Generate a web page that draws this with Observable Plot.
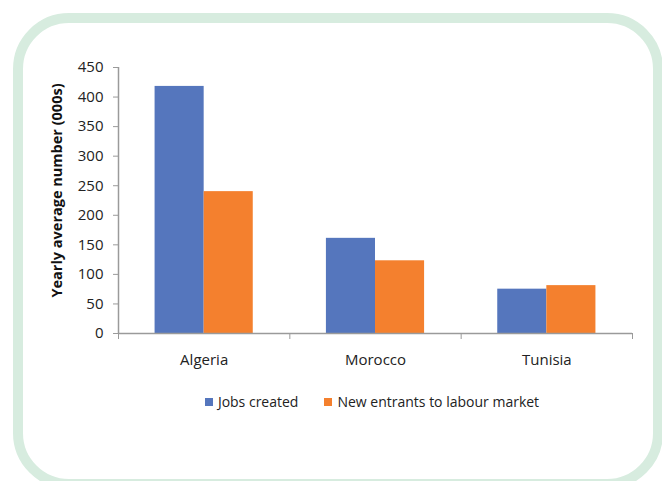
<!DOCTYPE html>
<html>
<head>
<meta charset="utf-8">
<script src="https://cdn.jsdelivr.net/npm/d3@7"></script>
<script src="https://cdn.jsdelivr.net/npm/@observablehq/plot@0.6"></script>
<style>
  html, body { margin: 0; padding: 0; background: #fff; }
  #wrap { position: relative; width: 662px; height: 481px; overflow: hidden; font-family: "Open Sans", sans-serif; }
  #frame { position: absolute; left: 13px; top: 13px; width: 650px; height: 476px; box-sizing: border-box;
           border: 10px solid #d7ecdf; border-radius: 56px; }
  #chart { position: absolute; left: 0; top: 0; }
  #legend { position: absolute; left: 0; width: 662px; top: 392px; display: flex; justify-content: center;
            font-size: 14px; color: #222; padding-left: 108px; box-sizing: border-box; }
  .item { display: flex; align-items: center; margin-right: 26px; }
  .sw { width: 8px; height: 8px; margin-right: 5px; }
</style>
</head>
<body>
<div id="wrap">
  <div id="frame"></div>
  <div id="chart"></div>
  <div id="legend"></div>
</div>
<script>
const countries = ["Algeria", "Morocco", "Tunisia"];
const seriesNames = ["Jobs created", "New entrants to labour market"];
const jobsCreated = [418, 161, 75];
const newEntrants = [240, 123, 81];
const yTicks = [0, 50, 100, 150, 200, 250, 300, 350, 400, 450];
const yTitle = "Yearly average number (000s)";
const colors = ["#5576bd", "#f4802e"];

const barWidth = 0.2865; // fraction of a category slot per bar
const rows = [];
countries.forEach((c, i) => {
  [jobsCreated[i], newEntrants[i]].forEach((v, s) => {
    const x1 = i - barWidth + s * barWidth;
    rows.push({country: c, series: seriesNames[s], value: v, x1, x2: x1 + barWidth});
  });
});
const centers = countries.map((c, i) => i);
const bounds = [...countries.map((c, i) => i - 0.5), countries.length - 0.5];

const plot = Plot.plot({
  width: 662,
  height: 380,
  marginLeft: 118,
  marginRight: 30,
  marginTop: 67,
  marginBottom: 47,
  style: {fontFamily: "Open Sans, sans-serif", fontSize: "15px", color: "#222", background: "transparent"},
  x: {type: "linear", domain: [bounds[0], bounds[bounds.length - 1]]},
  y: {domain: [0, yTicks[yTicks.length - 1]]},
  color: {domain: seriesNames, range: colors},
  marks: [
    Plot.rectY(rows, {x1: "x1", x2: "x2", y: "value", fill: "series"}),
    Plot.ruleY([0], {stroke: "#9a9a9a", strokeWidth: 1.5}),
    Plot.ruleX([bounds[0]], {y1: 0, y2: yTicks[yTicks.length - 1], stroke: "#9a9a9a", strokeWidth: 1.5}),
    Plot.axisY({ticks: yTicks, tickSize: 5, tickPadding: 10, stroke: "#9a9a9a", label: null, fontSize: 15}),
    Plot.axisX({ticks: bounds, tickSize: 6, tickFormat: () => "", stroke: "#9a9a9a", label: null}),
    Plot.axisX({ticks: centers, tickSize: 0, tickPadding: 21, tickFormat: i => countries[i], label: null, fontSize: 15}),
    Plot.text([yTitle], {frameAnchor: "left", textAnchor: "middle", rotate: -90, dx: -61, dy: -10,
                         fontWeight: "bold", fontSize: 14.5, fill: "#111"})
  ]
});
document.getElementById("chart").appendChild(plot);

const cs = plot.scale("color");
const legend = document.getElementById("legend");
cs.domain.forEach((d, i) => {
  const item = document.createElement("div");
  item.className = "item";
  const sw = document.createElement("div");
  sw.className = "sw";
  sw.style.background = cs.range[i];
  const t = document.createElement("span");
  t.textContent = d;
  item.appendChild(sw);
  item.appendChild(t);
  legend.appendChild(item);
});
</script>
</body>
</html>
